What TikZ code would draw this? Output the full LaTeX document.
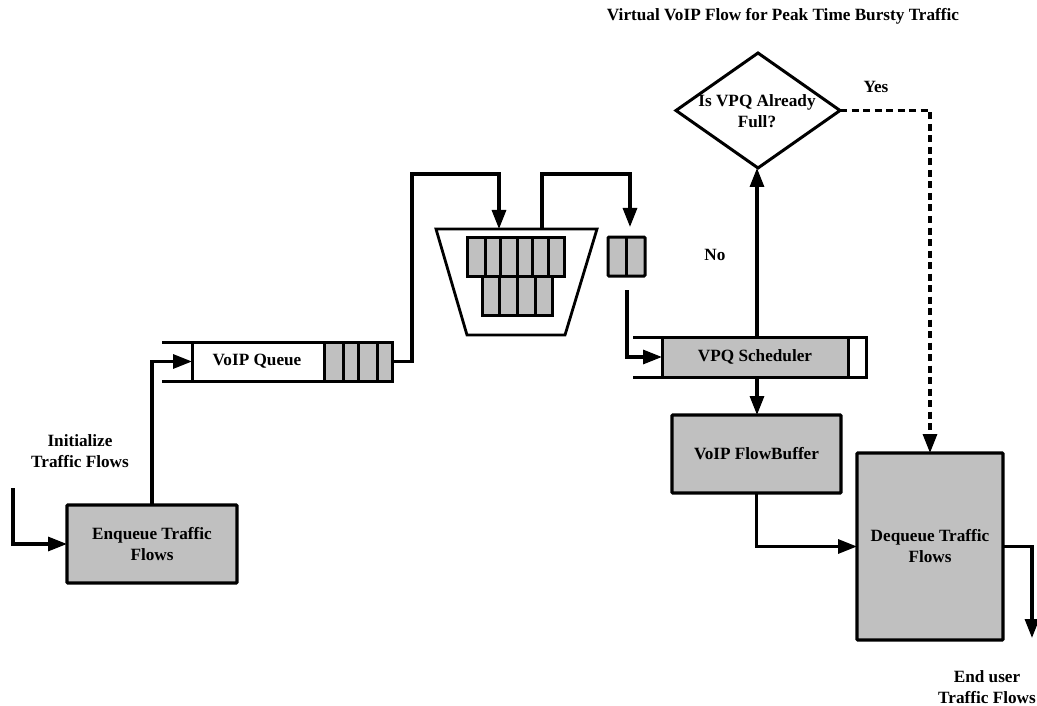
\documentclass[tikz,border=0pt]{standalone}
\usepackage{fontspec}
\setmainfont{Liberation Serif}
\usetikzlibrary{arrows.meta,shapes.geometric,calc}
\definecolor{boxgray}{HTML}{C0C0C0}
\begin{document}
\begin{tikzpicture}[x=1pt,y=-1pt,
  font=\fontsize{17.2}{21}\selectfont\bfseries,
  outer sep=0pt,
  txt/.style={align=center, inner sep=0pt},
  graybox/.style={draw, fill=boxgray, line width=3.4pt, rounded corners=1pt, align=center, inner sep=0pt},
  qline/.style={line width=3pt},
  cell/.style={draw, fill=boxgray, line width=3pt},
  conn/.style={line width=3.2pt},
  arr/.style={conn, -{Triangle[length=19pt,width=14pt]}},
  dashline/.style={dash pattern=on 7pt off 4.5pt}
]
\path[use as bounding box] (0,0) rectangle (1037,706);

% title and free labels
\node[txt] (title) at (783,16) {Virtual VoIP Flow for Peak Time Bursty Traffic};
\node[txt] (init) at (80,451) {Initialize\\Traffic Flows};
\node[txt] (yes) at (876,87) {Yes};
\node[txt] (no) at (715,255) {No};
\node[txt] (enduser) at (987,687) {End user\\Traffic Flows};

% main boxes
\node[graybox, minimum width=170pt, minimum height=78pt] (enq) at (152,544) {Enqueue Traffic\\Flows};
\node[graybox, minimum width=169pt, minimum height=78pt] (fb) at (756.5,454) {VoIP FlowBuffer};
\node[graybox, minimum width=146pt, minimum height=187pt] (deq) at (930,546.5) {Dequeue Traffic\\Flows};

% VoIP queue
\node[draw, qline, minimum width=200pt, minimum height=39pt, inner sep=0pt] (vq) at (292,361.5) {};
\node[txt] (vqtext) at (257,361.5) {VoIP Queue};
\draw[qline] (vq.north west) -- ++(-30,0);
\draw[qline] (vq.south west) -- ++(-30,0);
\foreach \a/\b in {324/343,343/358,358/377,377/392}
  \draw[cell] (\a,342) rectangle (\b,381);

% trapezoid buffer with stacked packets
\draw[line width=2.8pt, line join=miter] (436,229) -- (597,229) -- (565,335) -- (467,335) -- cycle;
\foreach \a/\b in {467/485,485/500,500/517,517/532,532/548,548/564}
  \draw[cell] (\a,237) rectangle (\b,276);
\foreach \a/\b in {482/499,499/517,517/535,535/552}
  \draw[cell] (\a,276) rectangle (\b,315);
\coordinate (tin) at (499,229);
\coordinate (tout) at (542,229);

% two-packet holding box
\node[draw, fill=boxgray, line width=3pt, rounded corners=1pt, minimum width=37pt, minimum height=39pt, inner sep=0pt] (sb) at (626.5,256.5) {};
\draw[line width=3pt] (sb.north) -- (sb.south);
\coordinate (sbin) at (630,227);
\coordinate (sbout) at (627,290);

% VPQ scheduler queue
\node[draw, fill=boxgray, qline, minimum width=186pt, minimum height=40pt, inner sep=0pt] (sch) at (755,357) {VPQ Scheduler};
\draw[qline, line join=miter] (sch.north east) -- ++(18,0) -- ++(0,40) -- (sch.south east);
\draw[qline] (sch.north west) -- ++(-29,0);
\draw[qline] (sch.south west) -- ++(-29,0);
\coordinate (schtop) at (757,337);
\coordinate (schbot) at (757,377);

% decision
\node[draw, diamond, line width=3pt, minimum width=164pt, minimum height=115pt, inner sep=0pt] (dia) at (758,110.5) {};
\node[txt] (diatext) at (757,111) {Is VPQ Already\\Full?};

\coordinate (eout) at (1032,638);
\coordinate (src) at (13,488);

% connectors
\draw[arr] (src) |- (enq.west);
\draw[arr] (enq.north) |- (vq.west);
\draw[arr] (vq.east) -- ++(20,0) |- ($(tin)+(0,-55)$) -- (tin);
\draw[arr] (tout) -- ++(0,-55) -| (sbin);
\draw[arr] (sbout) |- (sch.west);
\draw[arr] (schbot) -- (schbot |- fb.north);
\draw[arr] (schtop) -- (schtop |- dia.south);
\draw[arr, dashline] (dia.east) -| (deq.north);
\draw[arr] (fb.south) |- (deq.west);
\draw[arr] (deq.east) -| (eout);
\end{tikzpicture}
\end{document}
